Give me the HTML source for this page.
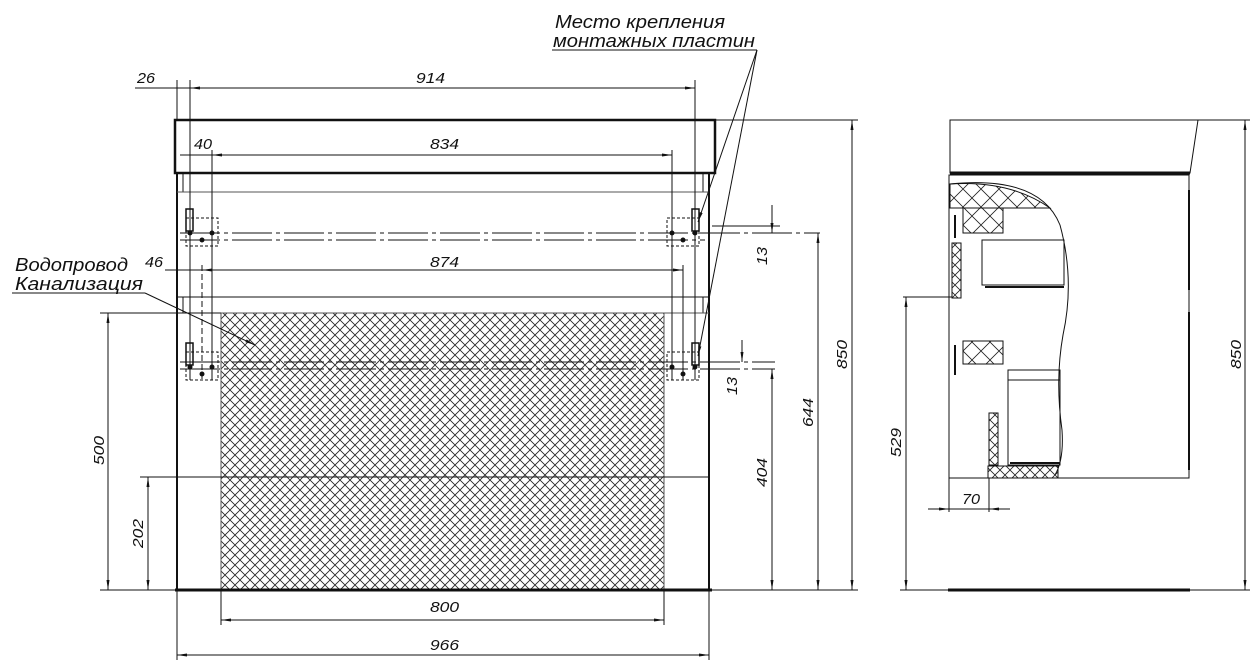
<!DOCTYPE html>
<html><head><meta charset="utf-8"><style>
html,body{margin:0;padding:0;background:#fff;width:1256px;height:665px;overflow:hidden}
text{font-family:"Liberation Sans","DejaVu Sans",sans-serif;font-style:italic;fill:#111}
</style></head><body>
<svg width="1256" height="665" viewBox="0 0 1256 665" xmlns="http://www.w3.org/2000/svg">
<defs>
<pattern id="h" width="10" height="10" patternUnits="userSpaceOnUse">
<path d="M0,0 L10,10 M10,0 L0,10" stroke="#222" stroke-width="0.8"/>
</pattern>
<pattern id="h2" width="18" height="18" patternUnits="userSpaceOnUse">
<path d="M0,0 L18,18 M18,0 L0,18" stroke="#222" stroke-width="0.8"/>
</pattern>
<marker id="a" viewBox="0 0 10 4" refX="10" refY="2" markerWidth="10" markerHeight="4" orient="auto-start-reverse" markerUnits="userSpaceOnUse"><path d="M0,0.5 L10,2 L0,3.5z" fill="#111"/></marker>
</defs>
<g stroke="#111" fill="none" stroke-width="1">
<rect x="221" y="313" width="443" height="277" fill="url(#h)" stroke="#555"/>
<rect x="175" y="120" width="540" height="53" stroke-width="2.5"/>
<line x1="177" y1="173" x2="177" y2="590" stroke-width="2"/>
<line x1="709" y1="173" x2="709" y2="590" stroke-width="2"/>
<line x1="183" y1="173" x2="183" y2="192"/><line x1="703" y1="173" x2="703" y2="192"/>
<line x1="177" y1="192" x2="709" y2="192" stroke="#555"/>
<line x1="177" y1="297" x2="709" y2="297"/>
<line x1="183" y1="297" x2="183" y2="313"/><line x1="703" y1="297" x2="703" y2="313"/>
<line x1="177" y1="313" x2="709" y2="313" stroke="#555"/>
<line x1="140" y1="477" x2="709" y2="477"/>
<line x1="175" y1="590" x2="712" y2="590" stroke-width="3"/>
<line x1="190" y1="80" x2="190" y2="380"/>
<line x1="212" y1="150" x2="212" y2="380"/>
<line x1="202" y1="265" x2="202" y2="380" stroke-dasharray="6,3"/>
<line x1="672" y1="150" x2="672" y2="380"/>
<line x1="695" y1="80" x2="695" y2="380"/>
<line x1="683" y1="265" x2="683" y2="380"/>
<line x1="177" y1="80" x2="177" y2="120"/>
<line x1="180" y1="233" x2="820" y2="233" stroke-dasharray="40,4,4,4"/>
<line x1="180" y1="240" x2="705" y2="240" stroke-dasharray="40,4,4,4"/>
<line x1="180" y1="362" x2="775" y2="362" stroke-dasharray="40,4,4,4"/>
<line x1="180" y1="369" x2="775" y2="369" stroke-dasharray="40,4,4,4"/>
<g stroke-dasharray="3,2">
<rect x="186" y="218" width="32" height="28"/><rect x="667" y="218" width="32" height="28"/>
<rect x="186" y="352" width="32" height="28"/><rect x="667" y="352" width="32" height="28"/>
</g>
<rect x="186" y="209" width="7" height="22" stroke-width="1.5"/><rect x="692" y="209" width="7" height="22" stroke-width="1.5"/>
<rect x="186" y="343" width="7" height="22" stroke-width="1.5"/><rect x="692" y="343" width="7" height="22" stroke-width="1.5"/>
<g fill="#111" stroke="none">
<circle cx="190" cy="233" r="2.5"/><circle cx="212" cy="233" r="2.5"/><circle cx="202" cy="240" r="2.5"/>
<circle cx="672" cy="233" r="2.5"/><circle cx="695" cy="233" r="2.5"/><circle cx="683" cy="240" r="2.5"/>
<circle cx="190" cy="367" r="2.5"/><circle cx="212" cy="367" r="2.5"/><circle cx="202" cy="374" r="2.5"/>
<circle cx="672" cy="367" r="2.5"/><circle cx="695" cy="367" r="2.5"/><circle cx="683" cy="374" r="2.5"/>
</g>
<line x1="135" y1="88" x2="190" y2="88"/>
<line x1="190" y1="88" x2="695" y2="88" marker-start="url(#a)" marker-end="url(#a)"/>
<line x1="695" y1="80" x2="695" y2="120"/>
<line x1="180" y1="155" x2="212" y2="155"/>
<line x1="212" y1="155" x2="672" y2="155" marker-start="url(#a)" marker-end="url(#a)"/>
<line x1="165" y1="270" x2="202" y2="270"/>
<line x1="202" y1="270" x2="683" y2="270" marker-start="url(#a)" marker-end="url(#a)"/>
<line x1="221" y1="590" x2="221" y2="625"/><line x1="664" y1="590" x2="664" y2="625"/>
<line x1="221" y1="620" x2="664" y2="620" marker-start="url(#a)" marker-end="url(#a)"/>
<line x1="177" y1="590" x2="177" y2="660"/><line x1="709" y1="590" x2="709" y2="660"/>
<line x1="177" y1="655" x2="709" y2="655" marker-start="url(#a)" marker-end="url(#a)"/>
<line x1="100" y1="313" x2="221" y2="313"/>
<line x1="100" y1="590" x2="177" y2="590"/>
<line x1="108" y1="313" x2="108" y2="590" marker-start="url(#a)" marker-end="url(#a)"/>
<line x1="148" y1="477" x2="148" y2="590" marker-start="url(#a)" marker-end="url(#a)"/>
<line x1="715" y1="120" x2="858" y2="120"/>
<line x1="712" y1="590" x2="858" y2="590"/>
<line x1="852" y1="120" x2="852" y2="590" marker-start="url(#a)" marker-end="url(#a)"/>
<line x1="818" y1="233" x2="818" y2="590" marker-start="url(#a)" marker-end="url(#a)"/>
<line x1="772" y1="369" x2="772" y2="590" marker-start="url(#a)" marker-end="url(#a)"/>
<line x1="772" y1="205" x2="772" y2="233" marker-end="url(#a)"/>
<line x1="742" y1="340" x2="742" y2="362" marker-end="url(#a)"/>
<line x1="712" y1="226" x2="780" y2="226"/>
<line x1="552" y1="50" x2="757" y2="50"/>
<line x1="757" y1="50" x2="698" y2="222" marker-end="url(#a)"/>
<line x1="757" y1="50" x2="698" y2="356" marker-end="url(#a)"/>
<line x1="12" y1="293" x2="145" y2="293"/>
<line x1="145" y1="293" x2="255" y2="345" marker-end="url(#a)"/>
<path d="M950,120 L1198,120 L1190,173 L950,173 Z"/>
<line x1="950" y1="173" x2="1190" y2="173" stroke-width="3"/>
<rect x="949" y="175" width="240" height="303"/>
<line x1="1189" y1="190" x2="1189" y2="290" stroke-width="2"/>
<line x1="1189" y1="312" x2="1189" y2="470" stroke-width="2"/>
<line x1="948" y1="590" x2="1190" y2="590" stroke-width="3"/>
<path d="M950,184 Q1040,175 1060,225 Q1075,280 1063,335 Q1055,380 1062,430 Q1064,460 1055,475" />
<path d="M950,184 Q1010,180 1050,208 L950,208 Z" fill="url(#h2)"/>
<rect x="963" y="208" width="40" height="25" fill="url(#h2)"/>
<rect x="982" y="240" width="82" height="45"/>
<line x1="985" y1="287" x2="1064" y2="287" stroke-width="2"/>
<rect x="952" y="243" width="9" height="55" fill="url(#h)"/>
<rect x="963" y="341" width="40" height="23" fill="url(#h2)"/>
<rect x="1008" y="370" width="52" height="95"/>
<line x1="1008" y1="380" x2="1060" y2="380"/>
<line x1="1010" y1="463" x2="1060" y2="463" stroke-width="2"/>
<rect x="989" y="413" width="9" height="52" fill="url(#h)"/>
<rect x="988" y="466" width="70" height="12" fill="url(#h)"/>
<path d="M955,215 L955,238 M955,345 L955,375" stroke-width="2"/>
<line x1="1198" y1="120" x2="1250" y2="120"/>
<line x1="1190" y1="590" x2="1250" y2="590"/>
<line x1="1245" y1="120" x2="1245" y2="590" marker-start="url(#a)" marker-end="url(#a)"/>
<line x1="903" y1="297" x2="952" y2="297"/>
<line x1="900" y1="590" x2="948" y2="590"/>
<line x1="906" y1="297" x2="906" y2="590" marker-start="url(#a)" marker-end="url(#a)"/>
<line x1="949" y1="478" x2="949" y2="512"/><line x1="989" y1="478" x2="989" y2="512"/>
<line x1="928" y1="509" x2="949" y2="509" marker-end="url(#a)"/>
<line x1="1010" y1="509" x2="989" y2="509" marker-end="url(#a)"/>
<line x1="949" y1="509" x2="989" y2="509"/>
</g>
<g font-size="18">
<text x="555" y="28" textLength="170" lengthAdjust="spacingAndGlyphs">Место крепления</text>
<text x="553" y="47" textLength="202" lengthAdjust="spacingAndGlyphs">монтажных пластин</text>
<text x="15" y="271" textLength="113" lengthAdjust="spacingAndGlyphs">Водопровод</text>
<text x="15" y="290" textLength="128" lengthAdjust="spacingAndGlyphs">Канализация</text>
</g>
<g font-size="15">
<text x="137" y="83" textLength="18" lengthAdjust="spacingAndGlyphs">26</text>
<text x="416" y="83" textLength="29" lengthAdjust="spacingAndGlyphs">914</text>
<text x="194" y="149" textLength="18" lengthAdjust="spacingAndGlyphs">40</text>
<text x="430" y="149" textLength="29" lengthAdjust="spacingAndGlyphs">834</text>
<text x="145" y="267" textLength="18" lengthAdjust="spacingAndGlyphs">46</text>
<text x="430" y="267" textLength="29" lengthAdjust="spacingAndGlyphs">874</text>
<text x="430" y="612" textLength="29" lengthAdjust="spacingAndGlyphs">800</text>
<text x="430" y="650" textLength="29" lengthAdjust="spacingAndGlyphs">966</text>
<text x="962" y="504" textLength="18" lengthAdjust="spacingAndGlyphs">70</text>
<text transform="translate(104,465) rotate(-90)" textLength="29" lengthAdjust="spacingAndGlyphs">500</text>
<text transform="translate(143,548) rotate(-90)" textLength="29" lengthAdjust="spacingAndGlyphs">202</text>
<text transform="translate(813,427) rotate(-90)" textLength="29" lengthAdjust="spacingAndGlyphs">644</text>
<text transform="translate(847,369) rotate(-90)" textLength="29" lengthAdjust="spacingAndGlyphs">850</text>
<text transform="translate(767,487) rotate(-90)" textLength="29" lengthAdjust="spacingAndGlyphs">404</text>
<text transform="translate(767,265) rotate(-90)" textLength="18" lengthAdjust="spacingAndGlyphs">13</text>
<text transform="translate(737,395) rotate(-90)" textLength="18" lengthAdjust="spacingAndGlyphs">13</text>
<text transform="translate(901,457) rotate(-90)" textLength="29" lengthAdjust="spacingAndGlyphs">529</text>
<text transform="translate(1241,369) rotate(-90)" textLength="29" lengthAdjust="spacingAndGlyphs">850</text>
</g>
</svg>
</body></html>
